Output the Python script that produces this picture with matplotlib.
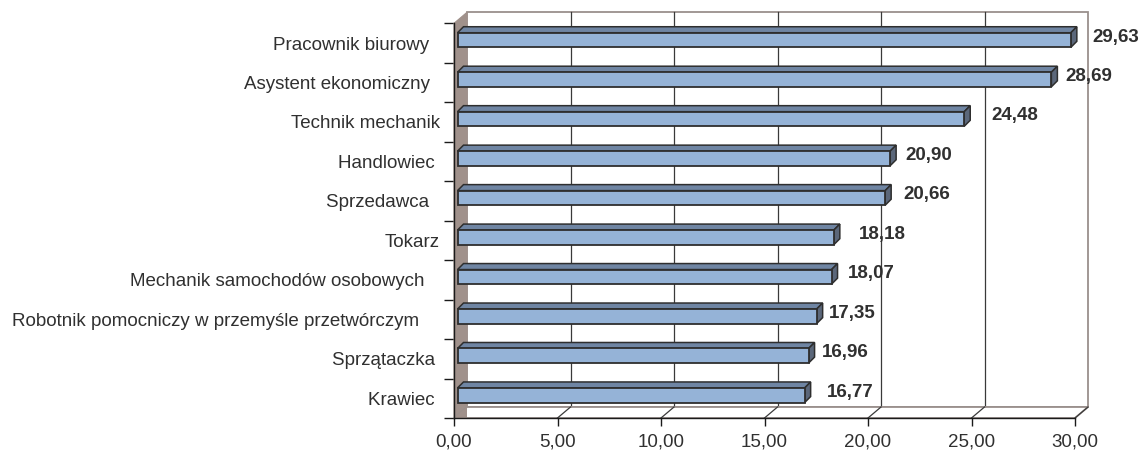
import matplotlib
matplotlib.use("Agg")
import matplotlib.pyplot as plt
from matplotlib.patches import Polygon, Rectangle
from matplotlib.lines import Line2D

plt.rcParams['font.family'] = ['Liberation Sans', 'DejaVu Sans']

# ---------------- data ----------------
categories = ["Pracownik biurowy  ", "Asystent ekonomiczny  ", "Technik mechanik",
              "Handlowiec ", "Sprzedawca  ", "Tokarz", "Mechanik samochodów osobowych   ",
              "Robotnik pomocniczy w przemyśle przetwórczym    ", "Sprzątaczka ", "Krawiec "]
values = [29.63, 28.69, 24.48, 20.90, 20.66, 18.18, 18.07, 17.35, 16.96, 16.77]
value_labels = ["29,63", "28,69", "24,48", "20,90", "20,66", "18,18", "18,07", "17,35", "16,96", "16,77"]
xticks = [0, 5, 10, 15, 20, 25, 30]
xtick_labels = ["0,00", "5,00", "10,00", "15,00", "20,00", "25,00", "30,00"]
# small horizontal nudges of the value labels (px), as placed in the original
label_nudge_px = [22, 14, 27, 15, 18, 25, 16, 12, 13, 22]

# ---------------- layout ----------------
W, H = 1143, 455
fig = plt.figure(figsize=(W / 100, H / 100), dpi=100)
L, R, T, B = 454, 1075, 23.3, 418
ax = fig.add_axes([L / W, (H - B) / H, (R - L) / W, (B - T) / H])
n = len(categories)
ax.set_xlim(0, 30)
ax.set_ylim(0, n)

pxx = (R - L) / 30.0      # px per x unit
pxy = (B - T) / n         # px per category
def dx(p): return p / pxx
def dy(p): return p / pxy

wall_dx, wall_dy = dx(13), dy(11)
bar_dx, bar_dy = dx(6), dy(6)
bar_off_x, bar_off_y = dx(3.5), dy(3)
bar_h = dy(14.6)

wall_col = '#A0918B'
frame_col = '#9A908C'
grid_col = '#3A3A3A'
fs = 13.5

# back wall
ax.add_patch(Polygon([(wall_dx, wall_dy), (30 + wall_dx, wall_dy), (30 + wall_dx, n + wall_dy),
                      (wall_dx, n + wall_dy)], closed=True, facecolor='white',
                     edgecolor=frame_col, lw=1.3, clip_on=False, zorder=1))
# side wall
ax.add_patch(Polygon([(0, 0), (wall_dx, wall_dy), (wall_dx, n + wall_dy), (0, n)], closed=True,
                     facecolor=wall_col, edgecolor=wall_col, lw=0.8, clip_on=False, zorder=2))
# floor
ax.add_patch(Polygon([(0, 0), (30, 0), (30 + wall_dx, wall_dy), (wall_dx, wall_dy)], closed=True,
                     facecolor='white', edgecolor=frame_col, lw=1.3, clip_on=False, zorder=2))
ax.add_patch(Polygon([(0, 0), (wall_dx, wall_dy), (wall_dx, 0)], closed=True,
                     facecolor=wall_col, edgecolor='none', clip_on=False, zorder=2))

# gridlines on back wall + floor diagonals
for t in xticks[1:-1]:
    ax.add_line(Line2D([t + wall_dx, t + wall_dx], [wall_dy, n + wall_dy], color=grid_col,
                       lw=0.9, clip_on=False, zorder=1.5))
for t in xticks[1:]:
    ax.add_line(Line2D([t, t + wall_dx], [0, wall_dy], color=grid_col, lw=0.9,
                       clip_on=False, zorder=2.5))

# bars
front_col = '#95B3D7'
top_col = '#6F85A3'
side_col = '#5B677A'
edge_col = '#2E2E2E'
for k, (v, lab) in enumerate(zip(values, value_labels)):
    yc = n - k - 0.5
    x0 = bar_off_x
    y0 = yc - bar_h / 2 + bar_off_y
    y1 = y0 + bar_h
    x1 = x0 + v
    ax.add_patch(Polygon([(x0, y1), (x0 + bar_dx, y1 + bar_dy), (x1 + bar_dx, y1 + bar_dy), (x1, y1)],
                         closed=True, facecolor=top_col, edgecolor=edge_col, lw=1.1,
                         clip_on=False, zorder=4, joinstyle='miter'))
    ax.add_patch(Polygon([(x1, y0), (x1 + bar_dx, y0 + bar_dy), (x1 + bar_dx, y1 + bar_dy), (x1, y1)],
                         closed=True, facecolor=side_col, edgecolor=edge_col, lw=1.1,
                         clip_on=False, zorder=4, joinstyle='miter'))
    ax.add_patch(Rectangle((x0, y0), v, bar_h, facecolor=front_col, edgecolor=edge_col,
                           lw=1.3, clip_on=False, zorder=5, joinstyle='miter'))
    ax.text(x1 + dx(label_nudge_px[k]), yc + dy(6), lab, fontsize=fs, fontweight='bold',
            color='#303030', ha='left', va='center', zorder=6, clip_on=False)

# axes styling
for s in ['top', 'right']:
    ax.spines[s].set_visible(False)
ax.spines['left'].set_color('#1a1a1a')
ax.spines['bottom'].set_color('#1a1a1a')
ax.spines['left'].set_linewidth(1.0)
ax.spines['bottom'].set_linewidth(1.0)
ax.spines['left'].set_zorder(3)
ax.spines['bottom'].set_zorder(3)
ax.patch.set_visible(False)

ax.set_xticks(xticks)
ax.set_xticklabels(xtick_labels, fontsize=fs, color='#303030')
ax.tick_params(axis='x', direction='out', length=6, width=1.0, color='#1a1a1a', pad=5)

ax.set_yticks([n - k - 0.5 for k in range(n)])
ax.set_yticklabels(categories, fontsize=fs, color='#303030')
ax.tick_params(axis='y', which='major', length=0, pad=10)
ax.set_yticks(list(range(n + 1)), minor=True)
ax.tick_params(axis='y', which='minor', direction='out', length=7, width=1.0, color='#1a1a1a')

fig.savefig('out.png', dpi=100, facecolor='white')
